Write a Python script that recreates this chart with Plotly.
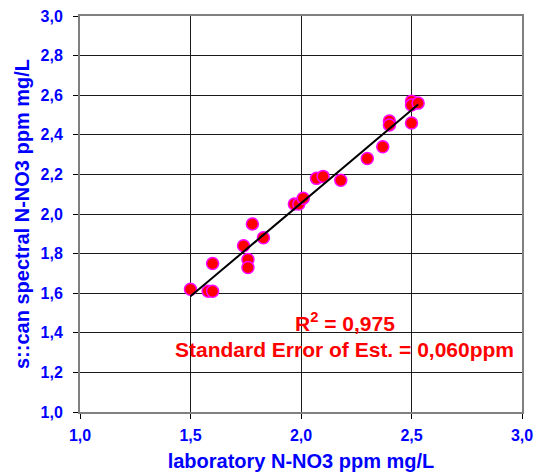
import numpy as np
import plotly.graph_objects as go

# Laboratory reference vs. s::can spectral probe readings (N-NO3, mg/L)
lab_values = [1.50, 1.58, 1.60, 1.60, 1.74, 1.76, 1.76, 1.78, 1.83, 1.97, 1.99, 2.01,
              2.07, 2.10, 2.18, 2.30, 2.37, 2.40, 2.40, 2.50, 2.50, 2.50, 2.53]
scan_values = [1.62, 1.61, 1.61, 1.75, 1.84, 1.77, 1.73, 1.95, 1.88, 2.05, 2.05, 2.08,
               2.18, 2.19, 2.17, 2.28, 2.34, 2.47, 2.45, 2.46, 2.57, 2.55, 2.56]
y_tick_values = [1.0, 1.2, 1.4, 1.6, 1.8, 2.0, 2.2, 2.4, 2.6, 2.8, 3.0]
x_tick_values = [1.0, 1.5, 2.0, 2.5, 3.0]
r_squared_text = "0,975"
std_error_text = "0,060ppm"

# Least-squares regression line over the measured range
slope, intercept = np.polyfit(lab_values, scan_values, 1)
fit_x = np.array([min(lab_values), max(lab_values)])
fit_y = slope * fit_x + intercept

BLUE = "#0000FF"
RED = "#FF0000"
FONT = "Liberation Sans"


def bold_labels(values):
    # decimal comma, bold tick text
    return [f"<b>{v:.1f}</b>".replace(".", ",") for v in values]


fig = go.Figure()
fig.add_trace(go.Scatter(
    x=lab_values, y=scan_values, mode="markers",
    marker=dict(size=12, color=RED, line=dict(color="#FF00FF", width=1.5)),
    showlegend=False,
))
fig.add_trace(go.Scatter(
    x=fit_x, y=fit_y, mode="lines",
    line=dict(color="black", width=2),
    showlegend=False,
))

fig.add_annotation(
    x=2.2, y=1.455, xref="x", yref="y",
    text=f"<b>R<sup>2</sup> = {r_squared_text}</b>",
    showarrow=False, xanchor="center", yanchor="middle",
    font=dict(family=FONT, size=21, color=RED),
)
fig.add_annotation(
    x=2.197, y=1.318, xref="x", yref="y",
    text=f"<b>Standard Error of Est. = {std_error_text}</b>",
    showarrow=False, xanchor="center", yanchor="middle",
    font=dict(family=FONT, size=21, color=RED),
)

axis_common = dict(
    showgrid=True, gridcolor="#1a1a1a", gridwidth=1,
    showline=True, linecolor="#808080", linewidth=2, mirror=True,
    ticks="outside", ticklen=5, tickcolor="black", tickwidth=1,
    tickfont=dict(family=FONT, size=16, color=BLUE),
    zeroline=False, automargin=False,
)

fig.update_xaxes(
    range=[1.0, 3.0], tickmode="array",
    tickvals=x_tick_values, ticktext=bold_labels(x_tick_values),
    ticklabelstandoff=3,
    title=dict(text="<b>laboratory N-NO3 ppm mg/L</b>", standoff=12,
               font=dict(family=FONT, size=20, color=BLUE)),
    **axis_common,
)
fig.update_yaxes(
    range=[1.0, 3.0], tickmode="array",
    tickvals=y_tick_values, ticktext=bold_labels(y_tick_values),
    ticklabelstandoff=7,
    title=dict(text="<b>s::can spectral N-NO3 ppm mg/L</b>", standoff=6,
               font=dict(family=FONT, size=20, color=BLUE)),
    **axis_common,
)

fig.update_layout(
    width=539, height=472,
    margin=dict(l=80, r=17, t=16, b=60),
    paper_bgcolor="white", plot_bgcolor="white",
)

fig.write_html("out.html")
